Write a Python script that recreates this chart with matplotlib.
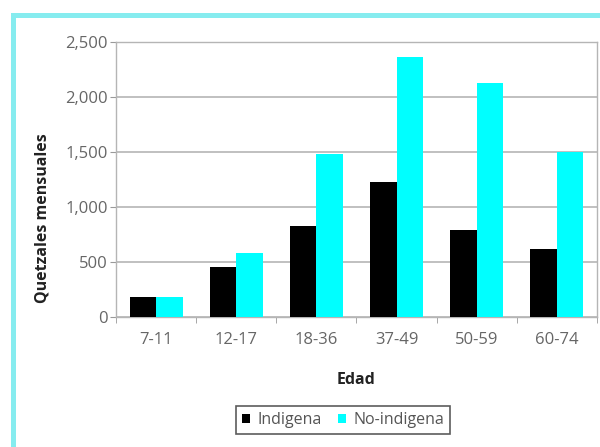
import numpy as np
import matplotlib.pyplot as plt
from matplotlib.patches import Rectangle

# monthly income by age group
edades = ['7-11', '12-17', '18-36', '37-49', '50-59', '60-74']
indigena = [182, 455, 827, 1228, 795, 618]
no_indigena = [180, 582, 1482, 2364, 2127, 1500]
yticks = [0, 500, 1000, 1500, 2000, 2500]

plt.rcParams['font.family'] = ['Open Sans', 'DejaVu Sans']

fig = plt.figure(figsize=(6, 4.47), dpi=100)
fig.patch.set_facecolor('white')

# light cyan frame around the chart
frame = Rectangle((12.5 / 600, -0.2), 1.2, 1.2 - 14.5 / 447,
                  transform=fig.transFigure, fill=False,
                  edgecolor='#86ecef', linewidth=3.6, zorder=0)
fig.patches.append(frame)

ax = fig.add_axes([116 / 600, 1 - 317 / 447, 481 / 600, 275 / 447])
x = np.arange(len(edades))
w = 0.33
ax.bar(x - w / 2, indigena, w, color='black', label='Indigena', zorder=3)
ax.bar(x + w / 2, no_indigena, w, color='#00ffff', label='No-indigena', zorder=3)

ax.set_xlim(-0.5, len(edades) - 0.5)
ax.set_ylim(0, 2500)
ax.set_yticks(yticks)
ax.set_yticklabels(['{:,}'.format(v) for v in yticks])
ax.set_xticks(x)
ax.set_xticklabels(edades)
ax.set_xticks(np.arange(-0.5, len(edades)), minor=True)
ax.tick_params(axis='x', which='major', length=0, pad=11, labelsize=12, labelcolor='#666666')
ax.tick_params(axis='x', which='minor', length=4, color='#999999')
ax.tick_params(axis='y', length=4, pad=2, color='#999999', labelsize=12, labelcolor='#666666')
ax.grid(axis='y', color='#b5b5b5', linewidth=1.2, zorder=0)
for s in ax.spines.values():
    s.set_color('#b5b5b5')
    s.set_linewidth(1.0)

ax.set_xlabel('Edad', fontsize=11.5, fontweight='bold', color='#222222', labelpad=17)
ax.set_ylabel('Quetzales mensuales', fontsize=11.5, fontweight='bold', color='#222222')
ax.yaxis.set_label_coords(-0.137, 0.36)

leg = fig.legend(loc='center', bbox_to_anchor=(343 / 600, 1 - 420 / 447), ncol=2,
                 frameon=True, fancybox=False, edgecolor='#333333', fontsize=11.5,
                 handlelength=0.5, handleheight=0.5, handletextpad=0.5,
                 columnspacing=1.0, borderpad=0.35)
leg.get_frame().set_linewidth(1.2)
for t in leg.get_texts():
    t.set_color('#555555')

fig.savefig('out.png', dpi=100)
